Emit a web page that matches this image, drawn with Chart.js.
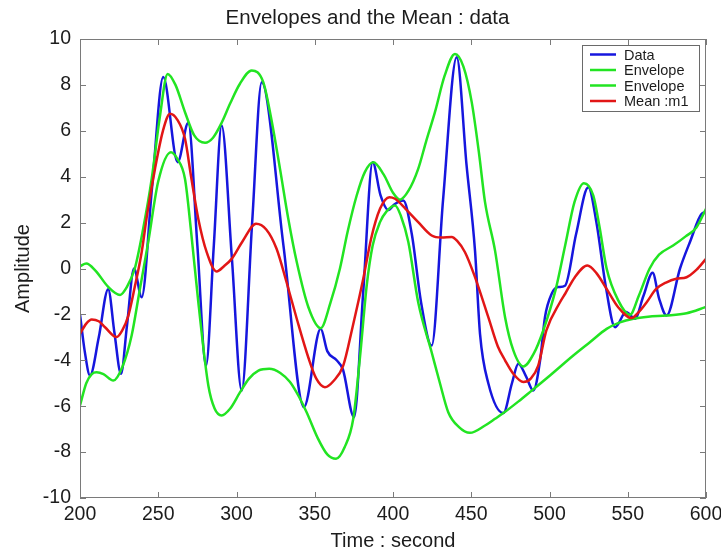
<!DOCTYPE html>
<html>
<head>
<meta charset="utf-8">
<title>Envelopes and the Mean</title>
<script src="https://cdn.jsdelivr.net/npm/chart.js@4.4.0/dist/chart.umd.min.js"></script>
<style>
  html, body { margin: 0; padding: 0; background: #fff; }
  #wrap { width: 721px; height: 553px; }
</style>
</head>
<body>
<div id="wrap"><canvas id="envChart" width="721" height="553"></canvas></div>
<script>
// values
const dataTime = [200, 203, 206.4, 212, 218, 222, 226.2, 230, 234.5, 239.4, 246, 253.2, 262.4, 269.2, 275, 280.5,
  285.5, 290.5, 297, 303.3, 310, 316.1, 330, 343.1, 353.8, 358, 364, 368, 375.1, 381, 387, 392, 397, 401,
  406.6, 412, 418, 424.7, 432, 440.7, 447, 452.4, 455.6, 460.9, 470.5, 476, 480.1, 485, 489.7, 494, 497.1,
  501.4, 505.4, 509.9, 517, 524.8, 530, 536, 541.9, 548.9, 554.6, 560, 565.9, 570, 574.8, 583.4, 590, 597.2, 600];
const dataAmp = [-2.0, -3.6, -4.66, -3.0, -0.9, -2.8, -4.59, -2.5, 0.0, -1.25, 3.5, 8.34, 4.63, 6.35, 1.0, -4.23,
  1.0, 6.23, 0.5, -5.32, 2.0, 8.12, 1.0, -6.04, -2.63, -3.6, -4.0, -4.4, -6.48, -1.0, 4.63, 3.2, 2.55, 2.8,
  2.96, 1.5, -1.5, -3.36, 3.0, 9.21, 4.5, 0.78, -2.85, -5.0, -6.3, -5.0, -4.15, -4.7, -5.32, -4.0, -2.12,
  -1.1, -0.81, -0.75, 1.5, 3.54, 2.0, -0.8, -2.56, -1.9, -2.19, -1.2, -0.19, -1.3, -2.05, 0.0, 1.2, 2.38, 2.45];

const upperTime = [200, 204, 210, 218, 225.6, 230, 235, 240, 245.8, 251, 256, 261, 267.1, 273, 279.9, 285, 290.5,
  296, 302.2, 309.7, 317.1, 322, 327.8, 333, 338.5, 346, 353.8, 360, 366.1, 371, 376.8, 382, 387.4, 394, 400,
  404.5, 410, 416.1, 421, 426.8, 433, 439.6, 445, 450.3, 455, 458.8, 465.2, 471.6, 476.9, 483.3, 490, 496,
  504, 510, 516, 522, 528, 532, 536.5, 544, 551.4, 557, 564, 570, 579, 587, 594, 600];
const upperAmp = [0.1, 0.22, -0.1, -0.8, -1.15, -0.8, 0.0, 1.6, 3.9, 6.6, 8.48, 8.0, 6.81, 5.8, 5.48, 5.7, 6.35,
  7.2, 8.05, 8.63, 8.12, 6.6, 4.34, 2.2, 0.28, -1.7, -2.6, -1.5, 0.0, 1.6, 3.18, 4.2, 4.63, 4.1, 3.3,
  3.0, 3.4, 4.34, 5.5, 6.81, 8.4, 9.35, 8.8, 7.25, 5.0, 2.89, 0.78, -2.12, -3.57, -4.27, -3.7, -2.7,
  -0.9, 1.0, 2.9, 3.72, 3.18, 1.8, 0.0, -1.4, -2.02, -1.2, 0.0, 0.6, 1.0, 1.4, 1.8, 2.6];

const lowerTime = [200, 204, 207.5, 210.6, 215, 221.3, 227, 233, 238, 243.6, 250, 258.1, 262, 267.1, 271, 275.6,
  282, 286, 290.5, 296, 302.2, 308, 314, 320.9, 328, 334.2, 340, 344.8, 352, 358, 363.6, 369, 374.6, 379,
  383.2, 387, 391.7, 396, 401.3, 405, 409.8, 416.1, 424.7, 430, 435.3, 442, 449.2, 458.8, 465.2, 470.5,
  480, 488.6, 500.3, 515.2, 526, 536.5, 545, 553.6, 563, 574.8, 587.6, 600];
const lowerAmp = [-5.97, -5.0, -4.6, -4.52, -4.6, -4.88, -4.3, -2.92, -1.0, 1.15, 3.8, 5.07, 4.8, 3.9, 1.6, -1.47,
  -5.1, -6.1, -6.4, -6.1, -5.4, -4.8, -4.45, -4.37, -4.55, -4.95, -5.6, -6.26, -7.4, -8.1, -8.29, -7.8, -6.55, -3.8,
  -0.74, 1.0, 2.02, 2.5, 2.75, 2.3, 1.15, -1.47, -3.65, -5.0, -6.26, -6.9, -7.16, -6.84, -6.55, -6.3,
  -5.8, -5.32, -4.66, -3.79, -3.2, -2.63, -2.35, -2.19, -2.1, -2.05, -1.95, -1.68];

const meanTime = [200, 204, 207.5, 212, 216, 223.4, 227, 230.9, 235, 239.4, 243, 247.9, 253, 257.5, 262, 267.1,
  271, 275.6, 281, 287.3, 292, 296.9, 304, 312.5, 319, 325.6, 332, 338.5, 346, 351, 356.5, 362, 368.2, 374,
  381, 386, 391.7, 397.7, 401.3, 408, 416.1, 424.7, 431, 437.5, 441, 446, 452, 460.9, 467, 471.6, 477,
  483.3, 488, 492.8, 498, 506.7, 510, 516, 524.2, 530, 536.5, 544, 552.5, 557, 562.1, 568, 574.8, 581,
  587.6, 594, 600];
const meanAmp = [-2.85, -2.4, -2.22, -2.3, -2.56, -2.99, -2.7, -2.05, -0.8, 0.71, 2.4, 4.34, 6.0, 6.74, 6.5, 5.65,
  4.0, 2.16, 0.7, -0.13, 0.1, 0.42, 1.2, 1.95, 1.7, 0.86, -0.6, -2.19, -3.9, -4.8, -5.17, -4.9, -4.23, -2.6,
  -0.45, 1.3, 2.6, 3.11, 3.04, 2.6, 2.02, 1.44, 1.35, 1.37, 1.2, 0.71, -0.3, -2.12, -3.4, -4.0, -4.6,
  -4.95, -4.8, -4.23, -2.7, -1.47, -1.1, -0.4, 0.13, -0.2, -0.89, -1.7, -2.16, -1.9, -1.47, -0.9, -0.6, -0.45,
  -0.38, -0.05, 0.42];

const xTickValues = [200, 250, 300, 350, 400, 450, 500, 550, 600];
const yTickValues = [-10, -8, -6, -4, -2, 0, 2, 4, 6, 8, 10];

const FONT = '"Liberation Sans", Arial, Helvetica, sans-serif';
const frameColor = '#7a7a7a';
const textColor = '#1c1c1c';

const toPoints = (ts, vs) => ts.map((t, i) => ({ x: t, y: vs[i] }));

// axes box with inward ticks, like the original plot
const boxTicks = {
  id: 'boxTicks',
  afterDatasetsDraw(chart) {
    const { ctx, chartArea: a, scales: { x, y } } = chart;
    ctx.save();
    ctx.strokeStyle = frameColor;
    ctx.lineWidth = 1;
    ctx.strokeRect(Math.round(a.left) + 0.5, Math.round(a.top) + 0.5,
      Math.round(a.right - a.left) - 1, Math.round(a.bottom - a.top) - 1);
    ctx.beginPath();
    xTickValues.forEach(v => {
      const px = Math.round(x.getPixelForValue(v)) + 0.5;
      ctx.moveTo(px, a.bottom); ctx.lineTo(px, a.bottom - 6);
      ctx.moveTo(px, a.top); ctx.lineTo(px, a.top + 6);
    });
    yTickValues.forEach(v => {
      const py = Math.round(y.getPixelForValue(v)) + 0.5;
      ctx.moveTo(a.left, py); ctx.lineTo(a.left + 6, py);
      ctx.moveTo(a.right, py); ctx.lineTo(a.right - 6, py);
    });
    ctx.stroke();
    ctx.restore();
  }
};

// boxed legend in the upper right corner
const boxLegend = {
  id: 'boxLegend',
  afterDraw(chart) {
    const { ctx, chartArea: a } = chart;
    const w = 117, h = 66;
    const left = a.right - 7 - w, top = a.top + 6;
    ctx.save();
    ctx.fillStyle = '#fff';
    ctx.fillRect(left, top, w, h);
    ctx.strokeStyle = '#6a6a6a';
    ctx.lineWidth = 1;
    ctx.strokeRect(left + 0.5, top + 0.5, w, h);
    ctx.font = '14.5px ' + FONT;
    ctx.textBaseline = 'middle';
    ctx.fillStyle = textColor;
    chart.data.datasets.forEach((ds, i) => {
      const cy = top + 9.5 + i * 15.5;
      ctx.strokeStyle = ds.borderColor;
      ctx.lineWidth = 2.5;
      ctx.beginPath();
      ctx.moveTo(left + 8, cy); ctx.lineTo(left + 34, cy);
      ctx.stroke();
      ctx.fillText(ds.label, left + 42, cy + 1);
    });
    ctx.restore();
  }
};

const lineStyle = (color) => ({
  borderColor: color,
  backgroundColor: color,
  borderWidth: 2.5,
  pointRadius: 0,
  fill: false,
  cubicInterpolationMode: 'monotone'
});

new Chart(document.getElementById('envChart'), {
  type: 'line',
  data: {
    datasets: [
      { label: 'Data', data: toPoints(dataTime, dataAmp), order: 4, ...lineStyle('rgb(22,22,222)') },
      { label: 'Envelope', data: toPoints(upperTime, upperAmp), order: 3, ...lineStyle('rgb(34,228,34)') },
      { label: 'Envelope', data: toPoints(lowerTime, lowerAmp), order: 2, ...lineStyle('rgb(34,228,34)') },
      { label: 'Mean :m1', data: toPoints(meanTime, meanAmp), order: 1, ...lineStyle('rgb(226,22,22)') }
    ]
  },
  options: {
    responsive: false,
    animation: false,
    devicePixelRatio: 1,
    layout: { padding: { left: 14, right: 0, top: 0, bottom: 0 } },
    plugins: {
      legend: { display: false },
      tooltip: { enabled: false },
      title: {
        display: true,
        text: 'Envelopes and the Mean : data',
        color: textColor,
        font: { family: FONT, size: 20.5, weight: 'normal' },
        padding: { top: 6, bottom: 8.4 }
      }
    },
    scales: {
      x: {
        type: 'linear',
        min: 200,
        max: 600,
        afterBuildTicks: (s) => { s.ticks = xTickValues.map(v => ({ value: v })); },
        afterFit: (s) => { s.height = 55; s.paddingLeft = 0; s.paddingRight = 15; },
        grid: { display: false, drawTicks: false },
        border: { display: false },
        ticks: { color: textColor, font: { family: FONT, size: 19.5 }, padding: 5, maxRotation: 0 },
        title: {
          display: true,
          text: 'Time : second',
          color: textColor,
          font: { family: FONT, size: 20 },
          padding: { top: 0, bottom: 0 }
        }
      },
      y: {
        min: -10,
        max: 10,
        afterBuildTicks: (s) => { s.ticks = yTickValues.map(v => ({ value: v })); },
        afterFit: (s) => { s.width = 66; },
        grid: { display: false, drawTicks: false },
        border: { display: false },
        ticks: { color: textColor, font: { family: FONT, size: 19.5 }, padding: 9 },
        title: {
          display: true,
          text: 'Amplitude',
          color: textColor,
          font: { family: FONT, size: 20 },
          padding: { top: -2.5, bottom: 0 }
        }
      }
    }
  },
  plugins: [boxTicks, boxLegend]
});
</script>
</body>
</html>
